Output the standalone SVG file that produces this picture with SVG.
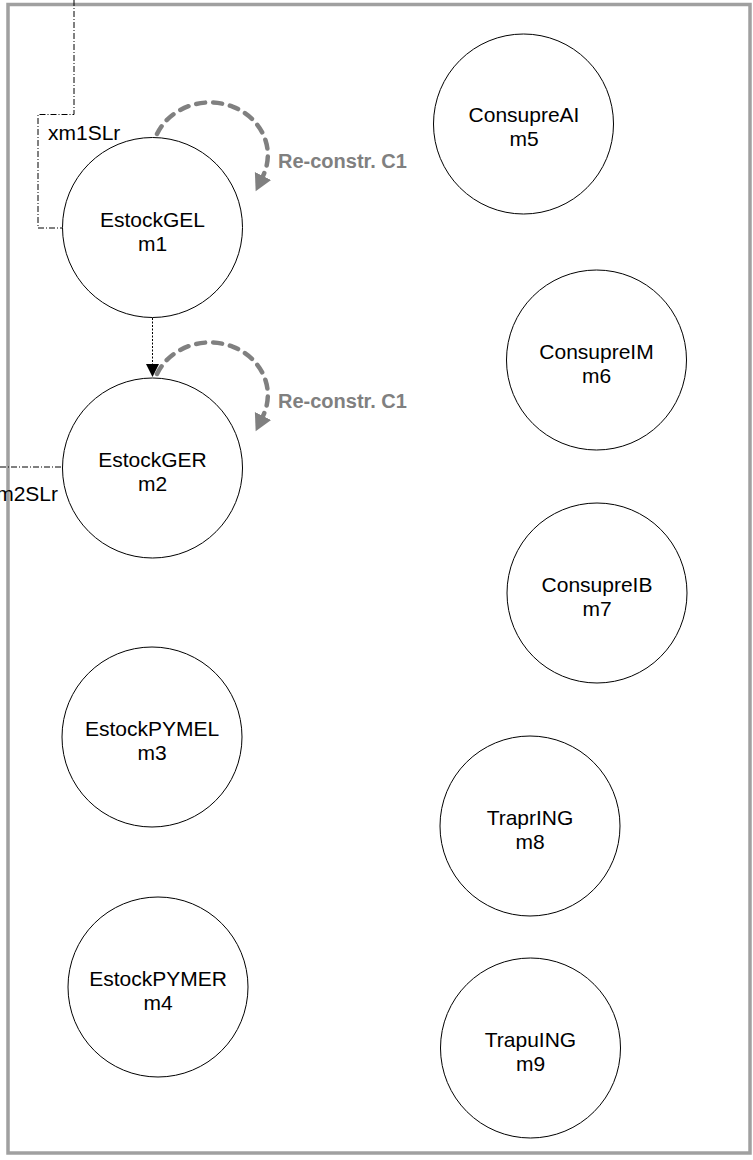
<svg xmlns="http://www.w3.org/2000/svg" width="753" height="1160" viewBox="0 0 753 1160">
<style>
.node{fill:#fff;stroke:#000;stroke-width:1}
.lbl{font-family:"Liberation Sans",Arial,sans-serif;font-size:21px;fill:#000;text-anchor:middle}
.elbl{font-family:"Liberation Sans",Arial,sans-serif;font-size:21px;fill:#000}
.rc{font-family:"Liberation Sans",Arial,sans-serif;font-size:20px;font-weight:bold;fill:#808080}
.loop{fill:none;stroke:#808080;stroke-width:4.5;stroke-dasharray:9 8;stroke-linecap:round}
.dd{fill:none;stroke:#000;stroke-width:1;stroke-dasharray:6 2 1 2}
</style>
<defs>
<marker id="garrow" markerUnits="userSpaceOnUse" markerWidth="20" markerHeight="22" refX="0" refY="10" orient="auto">
<path d="M0,1 L17,10 L0,19 Z" fill="#808080"/>
</marker>
<marker id="barrow" markerUnits="userSpaceOnUse" markerWidth="14" markerHeight="14" refX="0" refY="6.5" orient="auto">
<path d="M0,0 L13,6.5 L0,13 Z" fill="#000"/>
</marker>
</defs>
<rect x="8" y="4.5" width="742" height="1148.5" fill="none" stroke="#a0a0a0" stroke-width="3.5"/>
<g id="connectors">
<polyline class="dd" points="74,0 74,114.5 38,114.5 38,228 62.5,228"/>
<line class="dd" x1="0" y1="467" x2="62.5" y2="467"/>
<line x1="152.5" y1="318" x2="152.5" y2="364" stroke="#000" stroke-width="1" stroke-dasharray="2 1.5" marker-end="url(#barrow)"/>
<path class="loop" d="M157,134 A55,50 0 1 1 263,176" marker-end="url(#garrow)"/>
<path class="loop" d="M157,374 A55,50 0 1 1 263,416" marker-end="url(#garrow)"/>
<text class="elbl" x="48" y="140">xm1SLr</text>
<text class="elbl" x="58" y="501" text-anchor="end">m2SLr</text>
<text class="rc" x="278" y="168">Re-constr. C1</text>
<text class="rc" x="278" y="408">Re-constr. C1</text>
</g>
<g id="m1"><circle class="node" cx="152.5" cy="227.5" r="90"/><text class="lbl" x="152.5" y="226.5">EstockGEL</text><text class="lbl" x="152.5" y="250.5">m1</text></g>
<g id="m2"><circle class="node" cx="152.5" cy="468" r="90"/><text class="lbl" x="152.5" y="467">EstockGER</text><text class="lbl" x="152.5" y="491">m2</text></g>
<g id="m3"><circle class="node" cx="152" cy="737" r="90"/><text class="lbl" x="152" y="736">EstockPYMEL</text><text class="lbl" x="152" y="760">m3</text></g>
<g id="m4"><circle class="node" cx="158" cy="987" r="90"/><text class="lbl" x="158" y="986">EstockPYMER</text><text class="lbl" x="158" y="1010">m4</text></g>
<g id="m5"><circle class="node" cx="523.5" cy="124" r="90"/><text class="lbl" x="524" y="122">ConsupreAI</text><text class="lbl" x="524" y="145.5">m5</text></g>
<g id="m6"><circle class="node" cx="596.5" cy="360" r="90"/><text class="lbl" x="596.5" y="359">ConsupreIM</text><text class="lbl" x="596.5" y="383">m6</text></g>
<g id="m7"><circle class="node" cx="597" cy="593" r="90"/><text class="lbl" x="597" y="592">ConsupreIB</text><text class="lbl" x="597" y="616">m7</text></g>
<g id="m8"><circle class="node" cx="530" cy="826" r="90"/><text class="lbl" x="530" y="825">TraprING</text><text class="lbl" x="530" y="849">m8</text></g>
<g id="m9"><circle class="node" cx="530.5" cy="1048" r="90"/><text class="lbl" x="530.5" y="1047">TrapuING</text><text class="lbl" x="530.5" y="1071">m9</text></g>
</svg>
